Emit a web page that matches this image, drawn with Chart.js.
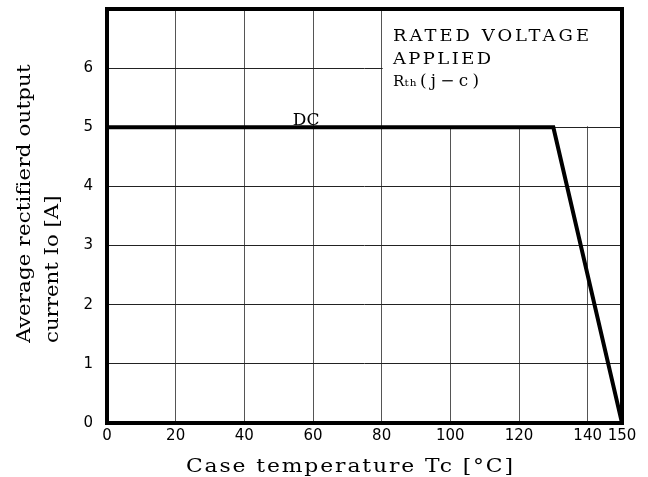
<!DOCTYPE html>
<html>
<head>
<meta charset="utf-8">
<script src="https://cdn.jsdelivr.net/npm/chart.js@4/dist/chart.umd.min.js"></script>
<style>
  html, body { margin: 0; padding: 0; background: #fff; }
</style>
</head>
<body>
<canvas id="chart" width="648" height="477"></canvas>
<script>
// derating curve: case temperature [°C] -> average rectified current [A]
const caseTemp = [0, 130, 150];
const outputCurrent = [5, 5, 0];

const xTicks = [0, 20, 40, 60, 80, 100, 120, 140, 150];
const yTicks = [0, 1, 2, 3, 4, 5, 6];

const noteLines = ['RATED VOLTAGE', 'APPLIED'];
const curveLabel = 'DC';

const serif = '"DejaVu Serif", "Liberation Serif", serif';

// the original lettering is wide and airy: stretch horizontally, then
// spread the letters to hit the measured width
function wideText(ctx, text, x, y, width, sx) {
  ctx.save();
  ctx.letterSpacing = '0px';
  const w = ctx.measureText(text).width;
  ctx.translate(x, y);
  ctx.scale(sx, 1);
  const sp = text.length > 1 ? (width / sx - w) / (text.length - 1) : 0;
  ctx.letterSpacing = Math.max(sp, 0) + 'px';
  ctx.fillText(text, 0, 0);
  ctx.restore();
}

const overlay = {
  id: 'overlay',
  beforeDatasetsDraw(chart) {
    const { ctx, chartArea: a, scales: { x, y } } = chart;
    ctx.save();

    // blank note box in the upper right
    const bx = x.getPixelForValue(80);
    const by = y.getPixelForValue(5);
    ctx.fillStyle = '#fff';
    ctx.fillRect(bx + 1, a.top, a.right - bx - 1, by - 1 - a.top);

    ctx.fillStyle = '#000';
    ctx.textAlign = 'left';
    ctx.textBaseline = 'alphabetic';
    ctx.font = '16px ' + serif;
    wideText(ctx, noteLines[0], 393, 41, 196, 1.12);
    wideText(ctx, noteLines[1], 393, 63.5, 98, 1.12);

    ctx.font = '15px ' + serif;
    wideText(ctx, 'R', 393, 86, 10, 1.0);
    ctx.font = '10px ' + serif;
    wideText(ctx, 'th', 404.5, 86, 12, 1.05);
    ctx.font = '16px ' + serif;
    wideText(ctx, '(j\u2212c)', 420, 86, 59, 1.05);

    // curve label
    ctx.font = '17px ' + serif;
    ctx.textAlign = 'center';
    ctx.fillText(curveLabel, x.getPixelForValue(58), by - 2);

    ctx.restore();
  },
  afterDraw(chart) {
    const { ctx, chartArea: a } = chart;
    ctx.save();
    ctx.strokeStyle = '#000';
    ctx.lineWidth = 4;
    ctx.strokeRect(a.left, a.top, a.right - a.left, a.bottom - a.top);

    ctx.fillStyle = '#000';
    ctx.textAlign = 'left';
    ctx.textBaseline = 'alphabetic';
    ctx.font = '19px ' + serif;
    wideText(ctx, 'Case temperature Tc [\u00b0C]', 186, 471.5, 327, 1.15);

    ctx.translate(30, 343);
    ctx.rotate(-Math.PI / 2);
    wideText(ctx, 'Average rectifierd output', 0, 0, 278, 1.12);
    wideText(ctx, 'current Io [A]', 0, 28, 135, 1.12);
    ctx.restore();
  }
};

new Chart(document.getElementById('chart'), {
  type: 'scatter',
  data: {
    datasets: [{
      data: caseTemp.map((t, i) => ({ x: t, y: outputCurrent[i] })),
      showLine: true,
      borderColor: '#000',
      borderWidth: 4,
      pointRadius: 0,
      tension: 0
    }]
  },
  options: {
    responsive: false,
    animation: false,
    events: [],
    layout: { padding: { top: 9, right: 26, left: 0, bottom: 0 } },
    plugins: {
      legend: { display: false },
      tooltip: { enabled: false }
    },
    scales: {
      x: {
        type: 'linear',
        min: 0,
        max: 150,
        afterBuildTicks(s) { s.ticks = xTicks.map(v => ({ value: v })); },
        afterFit(s) { s.height = 54; s.paddingLeft = 0; s.paddingRight = 0; },
        grid: { color: '#555', lineWidth: 1, drawTicks: false },
        border: { display: false },
        ticks: {
          color: '#000',
          padding: 4,
          maxRotation: 0,
          autoSkip: false,
          font: { family: '"DejaVu Sans", sans-serif', size: 15 }
        }
      },
      y: {
        type: 'linear',
        min: 0,
        max: 7,
        afterBuildTicks(s) { s.ticks = yTicks.map(v => ({ value: v })); },
        afterFit(s) { s.width = 107; s.paddingTop = 0; s.paddingBottom = 0; },
        grid: { color: '#222', lineWidth: 1, drawTicks: false },
        border: { display: false },
        ticks: {
          color: '#000',
          padding: 14,
          font: { family: '"DejaVu Sans", sans-serif', size: 15 }
        }
      }
    }
  },
  plugins: [overlay]
});
</script>
</body>
</html>
